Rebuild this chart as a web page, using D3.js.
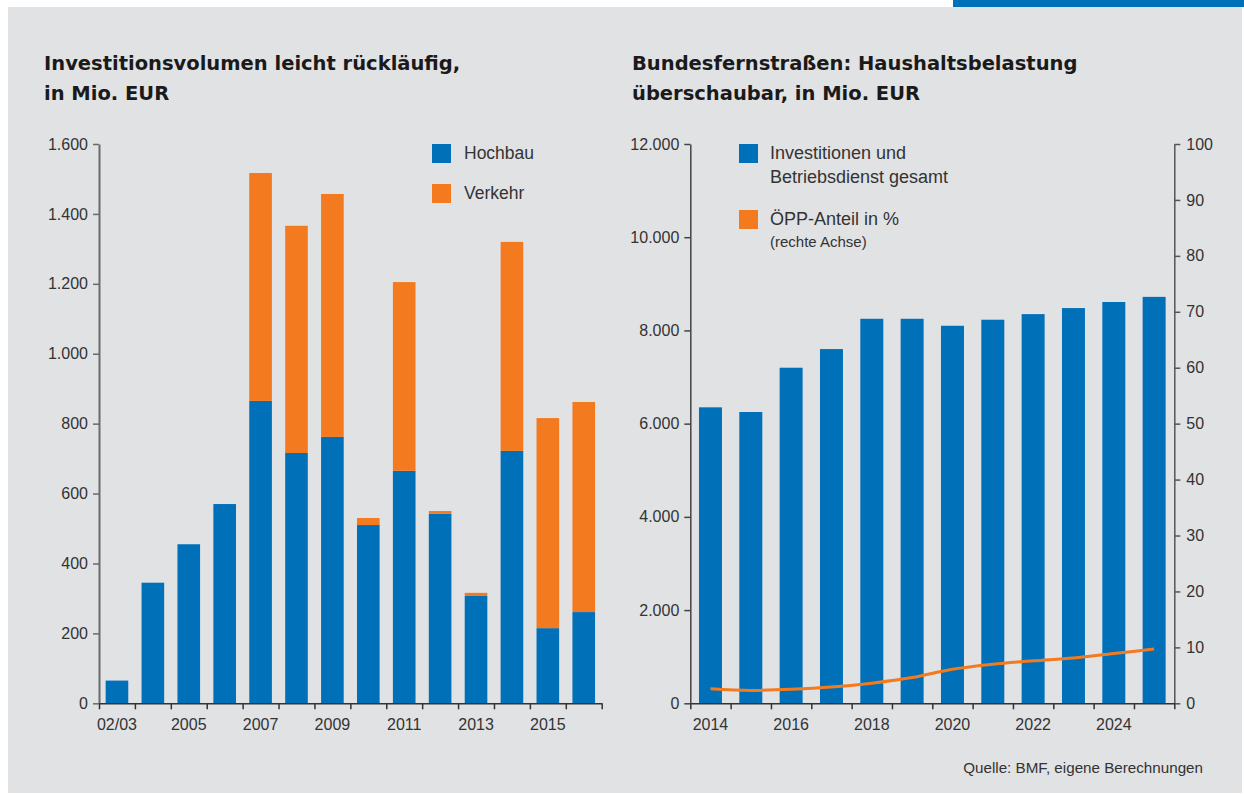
<!DOCTYPE html>
<html><head><meta charset="utf-8">
<script src="https://cdn.jsdelivr.net/npm/d3@7"></script>
<style>
body{margin:0;background:#fff;}
svg{display:block;}
text{font-family:Arial,"Liberation Sans",sans-serif;fill:#333;}
</style></head>
<body>
<svg id="c" width="1244" height="794"></svg>
<script>
// ---------- data ----------
const leftCategories = ["02/03","2004","2005","2006","2007","2008","2009","2010","2011","2012","2013","2014","2015","2016"];
const leftLabelCats = ["02/03","2005","2007","2009","2011","2013","2015"];
const hochbau = [65,345,455,570,865,716,762,510,665,542,307,722,215,261];
const verkehr = [0,0,0,0,652,650,695,20,540,8,9,598,601,601];
const leftTicks = [0,200,400,600,800,1000,1200,1400,1600];

const rightCategories = ["2014","2015","2016","2017","2018","2019","2020","2021","2022","2023","2024","2025"];
const rightLabelCats = ["2014","2016","2018","2020","2022","2024"];
const investitionen = [6350,6250,7200,7600,8250,8250,8100,8230,8350,8480,8610,8720];
const oppAnteil = [2.6,2.3,2.5,2.9,3.6,4.6,6.1,7.0,7.6,8.1,8.9,9.7];
const rightTicksL = [0,2000,4000,6000,8000,10000,12000];
const rightTicksR = [0,10,20,30,40,50,60,70,80,90,100];

const titleLeft = ["Investitionsvolumen leicht rückläufig,","in Mio. EUR"];
const titleRight = ["Bundesfernstraßen: Haushaltsbelastung","überschaubar, in Mio. EUR"];
const legendLeft = ["Hochbau","Verkehr"];
const legendRight1 = ["Investitionen und","Betriebsdienst gesamt"];
const legendRight2 = "ÖPP-Anteil in %";
const legendRight2b = "(rechte Achse)";
const source = "Quelle: BMF, eigene Berechnungen";

// ---------- style ----------
const BLUE = "#0070b9", ORANGE = "#f47a20", BG = "#e1e2e4", TXT = "#333";
const de = d3.formatLocale({decimal:",",thousands:".",grouping:[3],currency:["","€"]});
const fmt = de.format(",");

const svg = d3.select("#c");
svg.append("rect").attr("x",8).attr("y",7).attr("width",1234).attr("height",786).attr("fill",BG);
svg.append("rect").attr("x",953).attr("y",0).attr("width",291).attr("height",7).attr("fill",BLUE);

function title(lines,x){
  lines.forEach((t,i)=>svg.append("text").attr("x",x).attr("y",70+i*30)
    .style("font-family","'DejaVu Sans',sans-serif").style("font-weight","bold")
    .style("font-size","19.5px").style("fill","#1a1a1a").text(t));
}
title(titleLeft,44);
title(titleRight,632);

const yTop = 144, yBot = 703.3;

function styleAxis(g, lineColor){
  g.selectAll("text").style("font-size","16px").style("fill",TXT).style("font-family","Arial,'Liberation Sans',sans-serif");
  g.selectAll("line").attr("stroke",lineColor).attr("stroke-width",1.5);
  g.select(".domain").attr("stroke",lineColor).attr("stroke-width",1.5);
}

function xAxes(cats,labelCats,x0,x1,pad){
  const band = d3.scaleBand().domain(cats).range([x0,x1]).paddingInner(pad).paddingOuter(pad/2);
  const idx = d3.scaleLinear().domain([0,cats.length]).range([x0,x1]);
  const gt = svg.append("g").attr("transform",`translate(0,${yBot})`)
    .call(d3.axisBottom(idx).tickValues(d3.range(cats.length+1)).tickSize(6).tickSizeOuter(0).tickFormat(""));
  styleAxis(gt,"#333");
  const gl = svg.append("g").attr("transform",`translate(0,${yBot})`)
    .call(d3.axisBottom(band).tickValues(labelCats).tickSize(0).tickPadding(15));
  gl.select(".domain").remove();
  styleAxis(gl,"#333");
  return band;
}

// ---------- left chart ----------
const lx0 = 99, lx1 = 601.7;
const yL = d3.scaleLinear().domain([0,1600]).range([yBot,yTop]);
const bandL = d3.scaleBand().domain(leftCategories).range([lx0,lx1]).paddingInner(0.37).paddingOuter(0.185);

const stackData = leftCategories.map((c,i)=>({cat:c,hochbau:hochbau[i],verkehr:verkehr[i]}));
const stacked = d3.stack().keys(["hochbau","verkehr"])(stackData);
const colors = {hochbau:BLUE,verkehr:ORANGE};
stacked.forEach(s=>{
  svg.append("g").selectAll("rect").data(s.filter(d=>d[1]-d[0]>0)).join("rect")
    .attr("x",d=>bandL(d.data.cat)).attr("width",bandL.bandwidth())
    .attr("y",d=>yL(d[1])).attr("height",d=>yL(d[0])-yL(d[1]))
    .attr("fill",colors[s.key]);
});
const gyl = svg.append("g").attr("transform",`translate(${lx0},0)`)
  .call(d3.axisLeft(yL).tickValues(leftTicks).tickSize(6).tickSizeOuter(0).tickPadding(5).tickFormat(fmt));
styleAxis(gyl,"#6a6a6a");
gyl.select(".domain").attr("stroke-width",2);
xAxes(leftCategories,leftLabelCats,lx0,lx1,0.37);

// left legend
legendLeft.forEach((t,i)=>{
  svg.append("rect").attr("x",432).attr("y",144+i*40).attr("width",19).attr("height",19).attr("fill",i?ORANGE:BLUE);
  svg.append("text").attr("x",464).attr("y",159+i*40).style("font-size","17.5px").text(t);
});

// ---------- right chart ----------
const rx0 = 690.3, rx1 = 1174.3;
const yR = d3.scaleLinear().domain([0,12000]).range([yBot,yTop]);
const yP = d3.scaleLinear().domain([0,100]).range([yBot,yTop]);
const bandR = d3.scaleBand().domain(rightCategories).range([rx0,rx1]).paddingInner(0.43).paddingOuter(0.215);

svg.append("g").selectAll("rect").data(rightCategories).join("rect")
  .attr("x",d=>bandR(d)).attr("width",bandR.bandwidth())
  .attr("y",(d,i)=>yR(investitionen[i])).attr("height",(d,i)=>yBot-yR(investitionen[i]))
  .attr("fill",BLUE);

const line = d3.line().x((d,i)=>bandR(rightCategories[i])+bandR.bandwidth()/2).y(d=>yP(d)).curve(d3.curveMonotoneX);
svg.append("path").datum(oppAnteil).attr("d",line).attr("fill","none").attr("stroke",ORANGE).attr("stroke-width",3);

const gyr = svg.append("g").attr("transform",`translate(${rx0},0)`)
  .call(d3.axisLeft(yR).tickValues(rightTicksL).tickSize(6).tickSizeOuter(0).tickPadding(5).tickFormat(fmt));
styleAxis(gyr,"#444");
const gyr2 = svg.append("g").attr("transform",`translate(${rx1},0)`)
  .call(d3.axisRight(yP).tickValues(rightTicksR).tickSize(6).tickSizeOuter(0).tickPadding(6));
styleAxis(gyr2,"#555");
xAxes(rightCategories,rightLabelCats,rx0,rx1,0.43);

// right legend
svg.append("rect").attr("x",739).attr("y",144).attr("width",19).attr("height",19).attr("fill",BLUE);
legendRight1.forEach((t,i)=>svg.append("text").attr("x",770).attr("y",158.5+i*24.5).style("font-size","18px").text(t));
svg.append("rect").attr("x",739).attr("y",210).attr("width",19).attr("height",19).attr("fill",ORANGE);
svg.append("text").attr("x",770).attr("y",225).style("font-size","18px").text(legendRight2);
svg.append("text").attr("x",770).attr("y",246.5).style("font-size","15px").text(legendRight2b);

// source
svg.append("text").attr("x",1203).attr("y",773).attr("text-anchor","end").style("font-size","15.2px").text(source);
</script>
</body></html>
